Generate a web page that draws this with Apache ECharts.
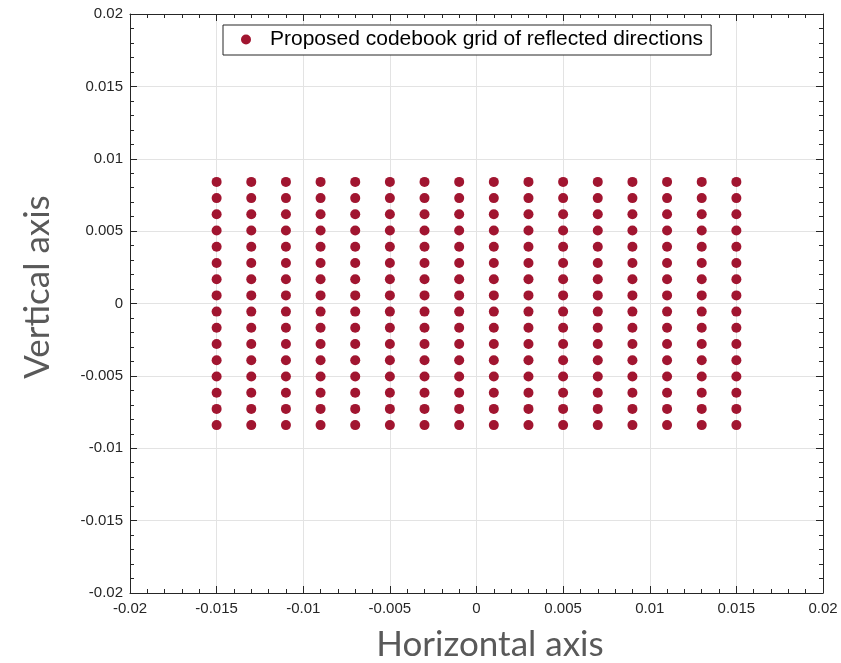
<!DOCTYPE html>
<html>
<head>
<meta charset="utf-8">
<script src="https://cdn.jsdelivr.net/npm/echarts@6/dist/echarts.min.js"></script>
<style>
  html, body { margin: 0; padding: 0; background: #ffffff; }
  #chart { width: 841px; height: 663px; }
</style>
</head>
<body>
<div id="chart"></div>
<script>
// Horizontal positions of the codebook columns
const xValues = [-0.015, -0.013, -0.011, -0.009, -0.007, -0.005, -0.003, -0.001,
                 0.001, 0.003, 0.005, 0.007, 0.009, 0.011, 0.013, 0.015];
// Vertical positions of the codebook rows
const yValues = [-0.0084, -0.00728, -0.00616, -0.00504, -0.00392, -0.0028, -0.00168, -0.00056,
                 0.00056, 0.00168, 0.0028, 0.00392, 0.00504, 0.00616, 0.00728, 0.0084];
const seriesName = 'Proposed codebook grid of reflected directions';
const xTitle = 'Horizontal axis';
const yTitle = 'Vertical axis';

// Every column/row combination is one direction in the grid
const points = [];
xValues.forEach(function (x) {
  yValues.forEach(function (y) { points.push([x, y]); });
});

const axisColor = '#262626';
const tickFont = 'Liberation Sans, Arial, sans-serif';
const titleFont = 'Lato, sans-serif';
const labelFmt = function (v) {
  const r = Math.round(v * 1000) / 1000;
  return r === 0 ? '0' : String(r);
};

function valueAxis(extra) {
  return Object.assign({
    type: 'value',
    min: -0.02,
    max: 0.02,
    interval: 0.005,
    axisLine: { show: true, onZero: false, lineStyle: { color: axisColor, width: 1 } },
    axisTick: { show: true, inside: true, length: 7, lineStyle: { color: axisColor } },
    minorTick: { show: true, splitNumber: 5, length: 4, lineStyle: { color: axisColor } },
    splitLine: { show: false },
    minorSplitLine: { show: false },
    axisLabel: { show: false }
  }, extra);
}

const chart = echarts.init(document.getElementById('chart'), null, { renderer: 'canvas' });
chart.setOption({
  animation: false,
  backgroundColor: '#ffffff',
  grid: { left: 130, right: 18, top: 14, bottom: 70 },
  legend: {
    data: [seriesName],
    left: 223,
    top: 25,
    orient: 'horizontal',
    backgroundColor: '#ffffff',
    borderColor: axisColor,
    borderWidth: 1,
    borderRadius: 0,
    padding: [4, 8, 5, 18],
    itemWidth: 10,
    itemHeight: 10,
    textStyle: {
      fontFamily: tickFont,
      fontSize: 21,
      color: '#000000',
      padding: [0, 0, 0, 14]
    }
  },
  xAxis: [
    valueAxis({
      position: 'bottom',
      splitLine: { show: true, lineStyle: { color: '#e3e3e3', width: 1 } },
      axisLabel: {
        show: true, margin: 8, color: axisColor, fontSize: 15,
        fontFamily: tickFont, formatter: labelFmt
      }
    }),
    valueAxis({ position: 'top' })
  ],
  yAxis: [
    valueAxis({
      position: 'left',
      splitLine: { show: true, lineStyle: { color: '#e3e3e3', width: 1 } },
      axisLabel: {
        show: true, margin: 7, color: axisColor, fontSize: 15,
        fontFamily: tickFont, formatter: labelFmt
      }
    }),
    valueAxis({ position: 'right' })
  ],
  graphic: [
    {
      type: 'text',
      x: 490, y: 645,
      style: {
        text: xTitle, fontFamily: titleFont, fontSize: 35, fill: '#595959',
        align: 'center', verticalAlign: 'middle'
      }
    },
    {
      type: 'text',
      x: 38, y: 287,
      rotation: Math.PI / 2,
      style: {
        text: yTitle, fontFamily: titleFont, fontSize: 35, fill: '#595959',
        align: 'center', verticalAlign: 'middle'
      }
    }
  ],
  series: [{
    name: seriesName,
    type: 'scatter',
    xAxisIndex: 0,
    yAxisIndex: 0,
    symbol: 'circle',
    symbolSize: 10,
    itemStyle: { color: '#a11530', opacity: 1 },
    data: points
  }]
});
</script>
</body>
</html>
